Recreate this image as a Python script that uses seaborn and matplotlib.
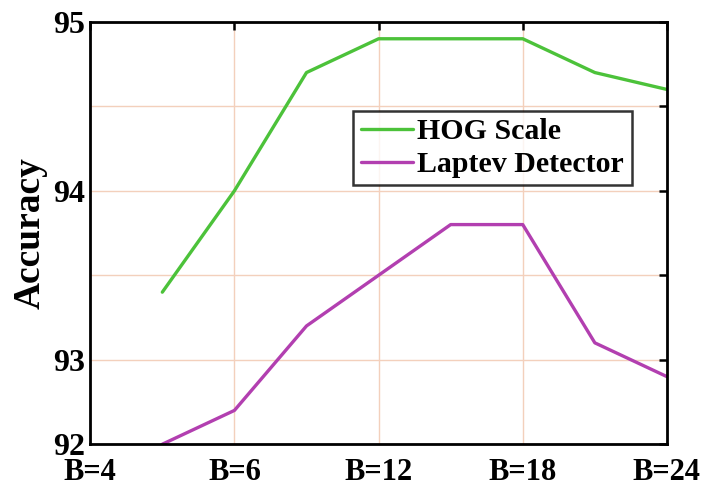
import pandas as pd
import matplotlib
matplotlib.use("Agg")
import matplotlib.pyplot as plt
import seaborn as sns

# tick labels and positions of the data along the category axis
x_labels = ["B=4", "B=6", "B=12", "B=18", "B=24"]
x_pos = [0.5, 1.0, 1.5, 2.0, 2.5, 3.0, 3.5, 4.0]

# accuracy
hog_scale = [93.4, 94.0, 94.7, 94.9, 94.9, 94.9, 94.7, 94.6]
laptev = [92.5, 92.7, 93.2, 93.5, 93.8, 93.8, 93.1, 92.9]

df = pd.concat([
    pd.DataFrame({"x": x_pos, "acc": hog_scale, "method": "HOG Scale"}),
    pd.DataFrame({"x": x_pos, "acc": laptev, "method": "Laptev Detector"}),
])

sns.set_style("white")
plt.rcParams["font.family"] = ["Liberation Serif", "DejaVu Serif"]
plt.rcParams["font.weight"] = "bold"
plt.rcParams["text.color"] = "black"
plt.rcParams["axes.labelcolor"] = "black"

fig = plt.figure(figsize=(7.05, 4.86), dpi=100)
ax = fig.add_axes([0.128, 0.086, 0.818, 0.869])

palette = {"HOG Scale": "#4cc23a", "Laptev Detector": "#b23fb0"}
sns.lineplot(data=df, x="x", y="acc", hue="method", palette=palette,
             linewidth=2.4, ax=ax)

ax.set_xlim(0, 4)
ax.set_ylim(92.5, 95)
ax.set_xticks(range(5))
ax.set_xticklabels(x_labels)
ax.set_yticks([92.5, 93, 93.5, 94, 94.5, 95])
ax.set_yticklabels(["92", "93", "", "94", "", "95"])
ax.grid(True, color="#f3d0bc", linewidth=1.0)
ax.tick_params(axis="both", direction="in", length=6, width=1.8,
               labelsize=23, top=True, right=True, colors="black")
ax.tick_params(axis="x", pad=10, labelsize=22)
ax.tick_params(axis="y", pad=4)
for lbl in ax.get_xticklabels() + ax.get_yticklabels():
    lbl.set_fontweight("bold")
for sp in ax.spines.values():
    sp.set_linewidth(2.0)
    sp.set_color("black")

ax.set_xlabel("")
ax.set_ylabel("Accuracy", fontsize=27, fontweight="bold", labelpad=4)

leg = ax.legend(loc="upper left", bbox_to_anchor=(0.456, 0.79), fontsize=21.5,
                frameon=True, fancybox=False, handlelength=1.75,
                handletextpad=0.15, borderpad=0.25, labelspacing=0.2,
                borderaxespad=0)
leg.get_frame().set_edgecolor("black")
leg.get_frame().set_linewidth(1.8)
for t in leg.get_texts():
    t.set_fontweight("bold")
    t.set_color("black")

fig.savefig("out.png", dpi=100)
